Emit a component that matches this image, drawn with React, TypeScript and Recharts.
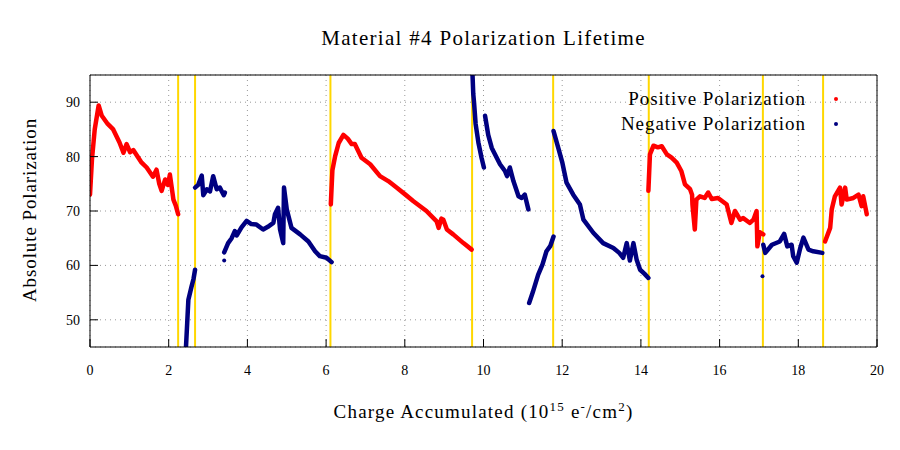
import React from 'react';
import {
  ComposedChart,
  Line,
  XAxis,
  YAxis,
  CartesianGrid,
  ReferenceLine,
} from 'recharts';

type Pt = [number, number];

// x = charge accumulated (10^15 e-/cm^2), y = absolute polarization
const pos1: Pt[] = [
  [0.0, 73.0], [0.05, 79.5], [0.12, 85.0], [0.22, 89.4], [0.3, 87.5], [0.45, 86.0],
  [0.59, 85.0], [0.75, 82.6], [0.85, 80.7], [0.93, 82.3], [1.02, 80.8], [1.1, 81.2],
  [1.3, 79.0], [1.44, 78.0], [1.6, 76.3], [1.69, 77.6], [1.76, 75.0], [1.82, 73.7],
  [1.91, 75.8], [1.98, 74.8], [2.03, 76.7], [2.12, 72.1], [2.18, 71.0], [2.24, 69.4],
];

const neg1: Pt[] = [
  [2.44, 45.1], [2.47, 49.4], [2.5, 53.7], [2.58, 56.1], [2.63, 57.5], [2.67, 59.2],
];

const neg2: Pt[] = [
  [2.67, 74.3], [2.75, 74.8], [2.84, 76.5], [2.88, 72.9], [2.97, 74.0], [3.05, 73.6],
  [3.13, 76.4], [3.22, 74.0], [3.3, 74.3], [3.4, 72.9], [3.43, 73.4],
];

const neg3: Pt[] = [
  [3.41, 62.4], [3.51, 64.1], [3.6, 65.0], [3.68, 66.3], [3.73, 65.5], [3.85, 67.0],
  [3.98, 68.2], [4.1, 67.6], [4.23, 67.5], [4.4, 66.6], [4.52, 67.1], [4.66, 67.8],
  [4.7, 69.4], [4.78, 70.6], [4.83, 66.6], [4.91, 64.1], [4.93, 74.3], [5.0, 70.3],
  [5.12, 66.9], [5.34, 65.7], [5.55, 64.4], [5.72, 62.6], [5.84, 61.7], [6.01, 61.4],
  [6.14, 60.6],
];

const neg3Stray: Pt[] = [[3.41, 60.9]];

const pos2: Pt[] = [
  [6.12, 71.2], [6.16, 77.5], [6.23, 80.1], [6.32, 82.5], [6.44, 84.0], [6.55, 83.3],
  [6.65, 82.3], [6.73, 82.3], [6.9, 79.8], [7.12, 78.6], [7.37, 76.4], [7.58, 75.5],
  [7.79, 74.3], [8.0, 73.1], [8.22, 71.8], [8.55, 70.0], [8.81, 68.1], [8.86, 66.9],
  [8.93, 68.6], [8.98, 68.4], [9.07, 66.6], [9.23, 65.7], [9.49, 64.1], [9.7, 62.9],
];

const neg4: Pt[] = [
  [9.72, 95.2], [9.74, 91.5], [9.76, 89.9], [9.8, 86.0], [9.87, 82.6], [9.95, 79.8],
  [10.01, 78.0],
];

const neg5: Pt[] = [
  [10.04, 87.5], [10.12, 84.0], [10.21, 81.6], [10.42, 78.6], [10.55, 77.3],
  [10.6, 76.4], [10.67, 78.0], [10.76, 75.5], [10.89, 72.7], [10.97, 72.4],
  [11.05, 73.0], [11.14, 70.3],
];

const neg6: Pt[] = [
  [11.16, 53.1], [11.25, 55.0], [11.39, 58.3], [11.5, 60.2], [11.6, 62.6],
  [11.7, 63.6], [11.78, 65.3],
];

const neg7: Pt[] = [
  [11.78, 84.7], [11.9, 81.6], [12.0, 79.0], [12.11, 75.2], [12.28, 73.0],
  [12.45, 71.2], [12.54, 68.4], [12.79, 66.0], [13.04, 64.1], [13.3, 63.2],
  [13.45, 62.3], [13.55, 61.4], [13.64, 64.1], [13.72, 60.9], [13.81, 64.1],
  [13.89, 61.1], [13.98, 59.2], [14.1, 58.4], [14.19, 57.7],
];

const pos3: Pt[] = [
  [14.19, 73.7], [14.23, 80.4], [14.32, 82.0], [14.43, 81.7], [14.53, 81.9],
  [14.66, 80.4], [14.78, 79.8], [14.91, 78.9], [15.03, 77.3], [15.12, 74.9],
  [15.25, 74.0], [15.3, 73.0], [15.31, 71.2], [15.37, 66.6], [15.41, 72.1],
  [15.5, 72.7], [15.62, 72.4], [15.71, 73.4], [15.8, 72.2], [15.96, 72.4],
  [16.18, 71.2], [16.3, 67.8], [16.39, 70.0], [16.52, 68.4], [16.6, 68.7],
  [16.77, 67.8], [16.86, 68.4], [16.94, 70.0], [16.96, 63.5], [17.02, 66.1],
  [17.11, 65.7],
];

const neg8: Pt[] = [
  [17.11, 63.8], [17.16, 62.3], [17.33, 63.8], [17.53, 64.4], [17.64, 65.8],
  [17.72, 63.5], [17.83, 63.8], [17.87, 61.7], [17.96, 60.5], [18.05, 63.2],
  [18.13, 65.1], [18.26, 62.9], [18.38, 62.6], [18.61, 62.3],
];

const neg8Stray: Pt[] = [[17.09, 58.0]];

const pos4: Pt[] = [
  [18.68, 64.4], [18.81, 66.9], [18.85, 70.3], [18.93, 72.7], [19.06, 74.3],
  [19.1, 71.2], [19.19, 74.3], [19.23, 72.1], [19.4, 72.4], [19.53, 73.0],
  [19.61, 70.9], [19.65, 72.7], [19.74, 69.4],
];

// polarity reversals / anneals
const resetPoints = [2.24, 2.67, 6.11, 9.71, 11.77, 14.2, 17.1, 18.63];

const xTicks = [0, 2, 4, 6, 8, 10, 12, 14, 16, 18, 20];
const yTicks = [50, 60, 70, 80, 90];

const RED = '#ff0000';
const BLUE = '#000080';
const FONT = '"Liberation Serif", "DejaVu Serif", serif';

const toRows = (pts: Pt[]) => pts.map(([x, y]) => ({ x, y }));

const positive = [pos1, pos2, pos3, pos4];
const negative = [neg1, neg2, neg3, neg4, neg5, neg6, neg7, neg8];
const strays = [neg3Stray, neg8Stray];

export default function App() {
  const tickStyle = { fontSize: 14, fill: '#000', fontFamily: FONT };
  return (
    <div style={{ position: 'absolute', left: 0, top: 0, width: 900, height: 450, background: '#fff', fontFamily: FONT }}>
      <ComposedChart width={900} height={450} margin={{ top: 74, right: 22, bottom: 73, left: 60 }}>
        <CartesianGrid stroke="#999" strokeDasharray="1 4" />
        <XAxis
          xAxisId={0}
          type="number"
          dataKey="x"
          domain={[0, 20]}
          ticks={xTicks}
          allowDataOverflow
          height={30}
          tickSize={-8}
          tickMargin={26}
          stroke="#000"
          tick={tickStyle}
        />
        <XAxis
          xAxisId="top"
          orientation="top"
          type="number"
          domain={[0, 20]}
          ticks={xTicks}
          height={1}
          tickSize={-8}
          tick={false}
          stroke="#000"
        />
        <YAxis
          yAxisId={0}
          type="number"
          domain={[45, 95]}
          ticks={yTicks}
          allowDataOverflow
          width={30}
          tickSize={-8}
          tickMargin={18}
          stroke="#000"
          tick={tickStyle}
        />
        <YAxis
          yAxisId="right"
          orientation="right"
          type="number"
          domain={[45, 95]}
          ticks={yTicks}
          width={1}
          tickSize={-8}
          tick={false}
          stroke="#000"
        />
        {resetPoints.map((x) => (
          <ReferenceLine key={x} x={x} stroke="#ffd700" strokeWidth={2} ifOverflow="hidden" />
        ))}
        {positive.map((seg, i) => (
          <Line
            key={'p' + i}
            data={toRows(seg)}
            dataKey="y"
            type="linear"
            stroke={RED}
            strokeWidth={4.5}
            strokeLinejoin="round"
            strokeLinecap="round"
            dot={false}
            isAnimationActive={false}
          />
        ))}
        {negative.map((seg, i) => (
          <Line
            key={'n' + i}
            data={toRows(seg)}
            dataKey="y"
            type="linear"
            stroke={BLUE}
            strokeWidth={4.5}
            strokeLinejoin="round"
            strokeLinecap="round"
            dot={false}
            isAnimationActive={false}
          />
        ))}
        {strays.map((seg, i) => (
          <Line
            key={'s' + i}
            data={toRows(seg)}
            dataKey="y"
            stroke="none"
            dot={{ r: 2, fill: BLUE, stroke: 'none' }}
            isAnimationActive={false}
          />
        ))}
      </ComposedChart>

      <div style={{ position: 'absolute', left: 90, width: 787, top: 26, textAlign: 'center', fontSize: 21, letterSpacing: 1.3 }}>
        Material #4 Polarization Lifetime
      </div>

      <div style={{ position: 'absolute', left: 90, width: 787, top: 399, textAlign: 'center', fontSize: 19, letterSpacing: 1.2 }}>
        Charge Accumulated (10<sup style={{ fontSize: 13 }}>15</sup> e<sup style={{ fontSize: 13 }}>-</sup>/cm<sup style={{ fontSize: 13 }}>2</sup>)
      </div>

      <div
        style={{
          position: 'absolute',
          left: 30,
          top: 210,
          fontSize: 19,
          letterSpacing: 0.9,
          whiteSpace: 'nowrap',
          transform: 'translate(-50%, -50%) rotate(-90deg)',
        }}
      >
        Absolute Polarization
      </div>

      {[
        { label: 'Positive Polarization', color: RED, top: 88 },
        { label: 'Negative Polarization', color: BLUE, top: 113 },
      ].map((item) => (
        <div key={item.label} style={{ position: 'absolute', top: item.top, left: 560, width: 290, height: 22, fontSize: 19 }}>
          <span style={{ position: 'absolute', right: 44, whiteSpace: 'nowrap', letterSpacing: 0.95 }}>{item.label}</span>
          <span
            style={{
              position: 'absolute',
              right: 12,
              top: 9,
              width: 4,
              height: 4,
              borderRadius: 2,
              background: item.color,
            }}
          />
        </div>
      ))}
    </div>
  );
}
